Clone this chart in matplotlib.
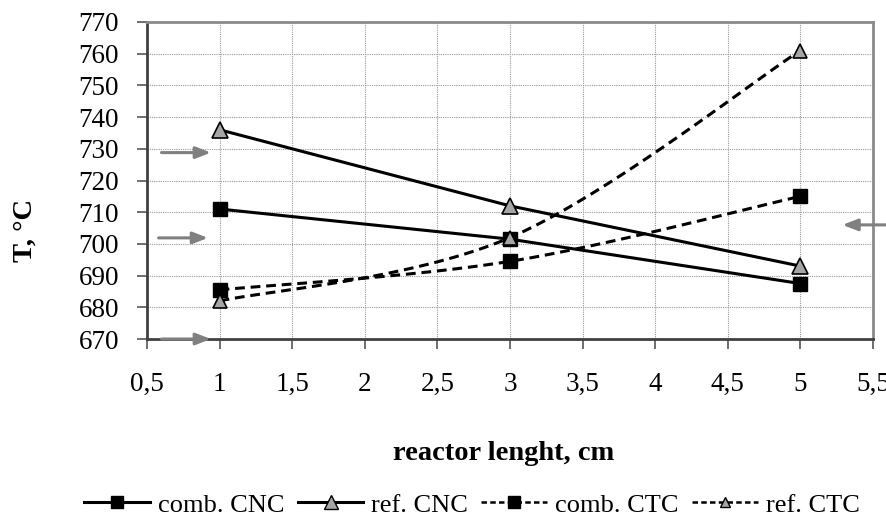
import numpy as np
import matplotlib
matplotlib.use("Agg")
import matplotlib.pyplot as plt
from matplotlib.lines import Line2D

plt.rcParams["font.family"] = ["Liberation Serif", "DejaVu Serif"]

# data
length = [1, 3, 5]
comb_cnc = [711, 701.5, 687.5]
ref_cnc = [736, 712, 693]
comb_ctc = [685.5, 694.5, 715]
ref_ctc = [682, 702, 761]

# gray marker arrows (data coords): (x_tail, x_head, y)
arrows = [(0.60, 0.94, 728.8), (0.58, 0.92, 701.9), (0.60, 0.94, 670.0),
          (5.62, 5.29, 706.0)]


def smooth(xs, ys, n=40):
    # Excel-style smoothed line (Catmull-Rom through the points)
    p = np.column_stack([xs, ys]).astype(float)
    p = np.vstack([p[0], p, p[-1]])
    out = []
    t = np.linspace(0, 1, n)
    for i in range(1, len(p) - 2):
        p0, p1, p2, p3 = p[i - 1], p[i], p[i + 1], p[i + 2]
        m1, m2 = (p2 - p0) / 2, (p3 - p1) / 2
        h00 = 2 * t**3 - 3 * t**2 + 1
        h10 = t**3 - 2 * t**2 + t
        h01 = -2 * t**3 + 3 * t**2
        h11 = t**3 - t**2
        seg = (np.outer(h00, p1) + np.outer(h10, m1) + np.outer(h01, p2)
               + np.outer(h11, m2))
        out.append(seg)
    c = np.vstack(out)
    return c[:, 0], c[:, 1]


fig = plt.figure(figsize=(8.87, 5.21), dpi=100)
ax = fig.add_axes([0.1657, 0.3493, 0.8185, 0.6085])

tri_face = "#a6a6a6"
dash = (0, (3.2, 1.9))

ax.plot(length, comb_cnc, color="black", lw=2.2, marker="s", ms=10,
        mfc="black", mec="black", zorder=3)
ax.plot(length, ref_cnc, color="black", lw=2.2, marker="^", ms=11,
        mfc=tri_face, mec="black", mew=1.2, zorder=3)

sx, sy = smooth(length, comb_ctc)
ax.plot(sx, sy, color="black", lw=2.2, linestyle=dash, zorder=3)
ax.plot(length, comb_ctc, ls="none", marker="s", ms=10, mfc="black",
        mec="black", zorder=4)
sx, sy = smooth(length, ref_ctc)
ax.plot(sx, sy, color="black", lw=2.2, linestyle=dash, zorder=3)
ax.plot(length, ref_ctc, ls="none", marker="^", ms=10, mfc=tri_face,
        mec="black", mew=1.2, zorder=4)

for x0, x1, y in arrows:
    ax.annotate("", xy=(x1, y), xytext=(x0, y), xycoords="data",
                annotation_clip=False, zorder=5,
                arrowprops=dict(arrowstyle="-|>,head_length=0.9,head_width=0.35",
                                color="#808080", lw=2.2, shrinkA=0, shrinkB=0))

ax.set_xlim(0.5, 5.5)
ax.set_ylim(670, 770)
xt = np.arange(0.5, 5.51, 0.5)
ax.set_xticks(xt)
ax.set_xticklabels([f"{v:g}".replace(".", ",") for v in xt], fontsize=19.5)
ax.set_yticks(np.arange(670, 771, 10))
ax.tick_params(axis="y", labelsize=19.5, length=7, width=1.2, pad=13,
               direction="out", color="#555555")
ax.tick_params(axis="x", length=7, width=1.2, pad=17, direction="out",
               color="#555555")

ax.grid(True, color="#9a9a9a", lw=0.8, linestyle=(0, (1, 1)))
ax.set_axisbelow(True)
for s in ("top", "right"):
    ax.spines[s].set_color("#8a8a8a")
    ax.spines[s].set_linewidth(2.0)
for s in ("left", "bottom"):
    ax.spines[s].set_color("#404040")
    ax.spines[s].set_linewidth(2.0)

fig.text(0.028, 0.557, "T, °C", rotation=90, ha="center", va="center",
         fontsize=20.5, fontweight="bold")
fig.text(0.568, 0.130, "reactor lenght, cm", ha="center", va="center",
         fontsize=20.5, fontweight="bold")

handles = [
    Line2D([], [], color="black", lw=2.2, marker="s", ms=9, mfc="black"),
    Line2D([], [], color="black", lw=2.2, marker="^", ms=10, mfc=tri_face,
           mec="black"),
    Line2D([], [], color="black", lw=1.8, ls=(0, (2.2, 1.3)), marker="s",
           ms=9, mfc="black"),
    Line2D([], [], color="black", lw=1.8, ls=(0, (2.2, 1.3)), marker="^",
           ms=7, mfc=tri_face, mec="black"),
]
labels = ["comb. CNC", "ref. CNC", "comb. CTC", "ref. CTC"]
fig.legend(handles, labels, loc="center", bbox_to_anchor=(0.532, 0.031),
           ncol=4, frameon=False, fontsize=19, handlelength=2.5,
           handletextpad=0.3, columnspacing=0.5, borderpad=0.1)

fig.savefig("out.png", dpi=100)
